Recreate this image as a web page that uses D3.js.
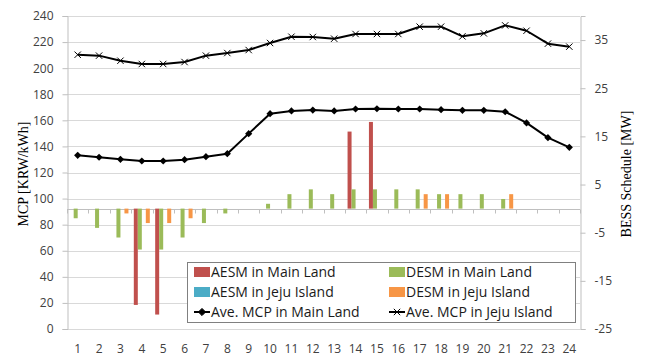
<!DOCTYPE html>
<html>
<head>
<meta charset="utf-8">
<script src="https://cdn.jsdelivr.net/npm/d3@7"></script>
<style>
  html, body { margin: 0; padding: 0; background: #fff; }
  svg { display: block; }
</style>
</head>
<body>
<svg id="chart" width="645" height="356"></svg>
<script>
// Hours of the day (category axis)
const hours = [1, 2, 3, 4, 5, 6, 7, 8, 9, 10, 11, 12, 13, 14, 15, 16, 17, 18, 19, 20, 21, 22, 23, 24];

// Axis ticks
const mcpTicks = [0, 20, 40, 60, 80, 100, 120, 140, 160, 180, 200, 220, 240];
const bessTicks = [-25, -15, -5, 5, 15, 25, 35];

// BESS schedules [MW] (secondary axis)
const aesmMain = [0, 0, 0, -20, -22, 0, 0, 0, 0, 0, 0, 0, 0, 16, 18, 0, 0, 0, 0, 0, 0, 0, 0, 0];
const desmMain = [-2, -4, -6, -8.5, -8.5, -6, -3, -1, 0, 1, 3, 4, 3, 4, 4, 4, 4, 3, 3, 3, 2, 0, 0, 0];
const aesmJeju = [0, 0, 0, 0, 0, 0, 0, 0, 0, 0, 0, 0, 0, 0, 0, 0, 0, 0, 0, 0, 0, 0, 0, 0];
const desmJeju = [0, 0, -1, -3, -3, -2, 0, 0, 0, 0, 0, 0, 0, 0, 0, 0, 3, 3, 0, 0, 3, 0, 0, 0];

// Average market clearing price [KRW/kWh] (primary axis)
const mcpMain = [133.2, 131.7, 130.1, 128.8, 128.8, 129.8, 132.1, 134.4, 149.8, 165.1, 167.2, 167.9,
                 167.2, 168.7, 168.9, 168.7, 168.7, 168.2, 167.7, 167.7, 166.6, 158.0, 146.7, 139.3];
const mcpJeju = [210.3, 209.6, 205.7, 203.2, 203.2, 204.7, 209.6, 211.6, 213.9, 219.3, 224.1, 223.9,
                 222.6, 226.2, 226.2, 226.2, 231.8, 231.8, 224.4, 226.7, 232.8, 228.7, 218.8, 216.5];

const barSeries = [
  { name: "AESM in Main Land", values: aesmMain, color: "#C0504D" },
  { name: "DESM in Main Land", values: desmMain, color: "#9BBB59" },
  { name: "AESM in Jeju Island", values: aesmJeju, color: "#4BACC6" },
  { name: "DESM in Jeju Island", values: desmJeju, color: "#F79646" }
];

const svg = d3.select("#chart");
const plot = { left: 67, right: 580, top: 16, bottom: 329 };

const x = d3.scaleBand().domain(hours).range([plot.left, plot.right]).padding(0);
const xSeries = d3.scaleBand().domain(barSeries.map(s => s.name))
  .range([0, x.bandwidth()]).paddingInner(0).paddingOuter(0.67);
const yL = d3.scaleLinear().domain([0, 240]).range([plot.bottom, plot.top]);
const yR = d3.scaleLinear().domain([-25, 40]).range([plot.bottom, plot.top]);

const tickFont = "'Open Sans', 'Noto Sans', sans-serif";
const tickColor = "#404040";

// Horizontal gridlines on the price axis
svg.append("g").selectAll("line").data(mcpTicks).join("line")
  .attr("x1", plot.left).attr("x2", plot.right)
  .attr("y1", d => Math.round(yL(d)) + 0.5).attr("y2", d => Math.round(yL(d)) + 0.5)
  .attr("stroke", "#d9d9d9").attr("stroke-width", 1);

// Left (price) axis
const gL = svg.append("g").attr("transform", `translate(${plot.left + 0.5},0)`)
  .call(d3.axisLeft(yL).tickValues(mcpTicks).tickSize(5).tickPadding(9));
gL.select(".domain").attr("stroke", "#bfbfbf");
gL.selectAll(".tick line").attr("stroke", "#bfbfbf");
gL.selectAll(".tick text").attr("font-family", tickFont).attr("font-size", 12).attr("fill", tickColor);

// Right (BESS) axis, plain hyphen for negatives
const gR = svg.append("g").attr("transform", `translate(${plot.right + 0.5},0)`)
  .call(d3.axisRight(yR).tickValues(bessTicks).tickSize(5).tickPadding(9).tickFormat(d => String(d)));
gR.select(".domain").attr("stroke", "#bfbfbf");
gR.selectAll(".tick line").attr("stroke", "#bfbfbf");
gR.selectAll(".tick text").attr("font-family", tickFont).attr("font-size", 12).attr("fill", tickColor);

// Category axis line at 0 MW with boundary ticks
const zeroY = Math.round(yR(0)) + 0.5;
svg.append("line").attr("x1", plot.left).attr("x2", plot.right)
  .attr("y1", zeroY).attr("y2", zeroY).attr("stroke", "#bfbfbf");
const boundaries = hours.map(h => x(h)).concat([plot.right]);
svg.append("g").selectAll("line").data(boundaries).join("line")
  .attr("x1", d => Math.round(d) + 0.5).attr("x2", d => Math.round(d) + 0.5)
  .attr("y1", zeroY).attr("y2", zeroY + 4).attr("stroke", "#bfbfbf");

// Hour labels along the bottom
svg.append("g").selectAll("text").data(hours).join("text")
  .attr("x", d => x(d) + x.bandwidth() / 2).attr("y", 352.5)
  .attr("text-anchor", "middle").attr("font-family", tickFont).attr("font-size", 12)
  .attr("fill", tickColor).text(d => d);

// Bars
barSeries.forEach(s => {
  svg.append("g").selectAll("rect")
    .data(hours.map((h, i) => ({ h, v: s.values[i] })).filter(d => d.v !== 0))
    .join("rect")
    .attr("x", d => x(d.h) + xSeries(s.name))
    .attr("width", xSeries.bandwidth())
    .attr("y", d => Math.min(yR(d.v), yR(0)))
    .attr("height", d => Math.abs(yR(d.v) - yR(0)))
    .attr("fill", s.color);
});

// Price lines
const cx = h => x(h) + x.bandwidth() / 2;
const line = d3.line().x((d, i) => cx(hours[i])).y(d => yL(d));
const diamond = "M0,-3.6L3.6,0L0,3.6L-3.6,0Z";
const cross = "M-3.2,-3.2L3.2,3.2M-3.2,3.2L3.2,-3.2";

svg.append("path").datum(mcpJeju).attr("d", line)
  .attr("fill", "none").attr("stroke", "#000").attr("stroke-width", 2).attr("stroke-linejoin", "round");
svg.append("g").selectAll("path").data(mcpJeju).join("path")
  .attr("transform", (d, i) => `translate(${cx(hours[i])},${yL(d)})`)
  .attr("d", cross).attr("fill", "none").attr("stroke", "#000").attr("stroke-width", 1);

svg.append("path").datum(mcpMain).attr("d", line)
  .attr("fill", "none").attr("stroke", "#000").attr("stroke-width", 2).attr("stroke-linejoin", "round");
svg.append("g").selectAll("path").data(mcpMain).join("path")
  .attr("transform", (d, i) => `translate(${cx(hours[i])},${yL(d)})`)
  .attr("d", diamond).attr("fill", "#000");

// Axis titles
svg.append("text").attr("transform", "translate(28,174) rotate(-90)")
  .attr("text-anchor", "middle").attr("font-family", "'Liberation Serif', serif")
  .attr("font-size", 14).attr("fill", "#000").text("MCP [KRW/kWh]");
svg.append("text").attr("transform", "translate(631,174) rotate(-90)")
  .attr("text-anchor", "middle").attr("font-family", "'Liberation Serif', serif")
  .attr("font-size", 14).attr("fill", "#000").text("BESS Schedule [MW]");

// Legend
const legend = svg.append("g");
legend.append("rect").attr("x", 187.5).attr("y", 262.5).attr("width", 388).attr("height", 60)
  .attr("fill", "#fff").attr("stroke", "#808080").attr("stroke-width", 1);
const legendItems = [
  { label: "AESM in Main Land", type: "bar", color: "#C0504D", col: 0, row: 0 },
  { label: "DESM in Main Land", type: "bar", color: "#9BBB59", col: 1, row: 0 },
  { label: "AESM in Jeju Island", type: "bar", color: "#4BACC6", col: 0, row: 1 },
  { label: "DESM in Jeju Island", type: "bar", color: "#F79646", col: 1, row: 1 },
  { label: "Ave. MCP in Main Land", type: "diamond", col: 0, row: 2 },
  { label: "Ave. MCP in Jeju Island", type: "cross", col: 1, row: 2 }
];
const colX = [194, 389];
const rowY = [272, 292, 312];
legendItems.forEach(it => {
  const lx = colX[it.col], ly = rowY[it.row];
  if (it.type === "bar") {
    legend.append("rect").attr("x", lx).attr("y", ly - 5).attr("width", 16).attr("height", 10).attr("fill", it.color);
  } else {
    legend.append("line").attr("x1", lx).attr("x2", lx + 16).attr("y1", ly).attr("y2", ly)
      .attr("stroke", "#000").attr("stroke-width", 2);
    legend.append("path").attr("transform", `translate(${lx + 8},${ly})`)
      .attr("d", it.type === "diamond" ? diamond : cross)
      .attr("fill", it.type === "diamond" ? "#000" : "none").attr("stroke", "#000").attr("stroke-width", 1);
  }
  legend.append("text").attr("x", lx + 17).attr("y", ly).attr("dy", "0.35em")
    .attr("font-family", tickFont).attr("font-size", 14).attr("fill", "#1a1a1a").text(it.label);
});
</script>
</body>
</html>
